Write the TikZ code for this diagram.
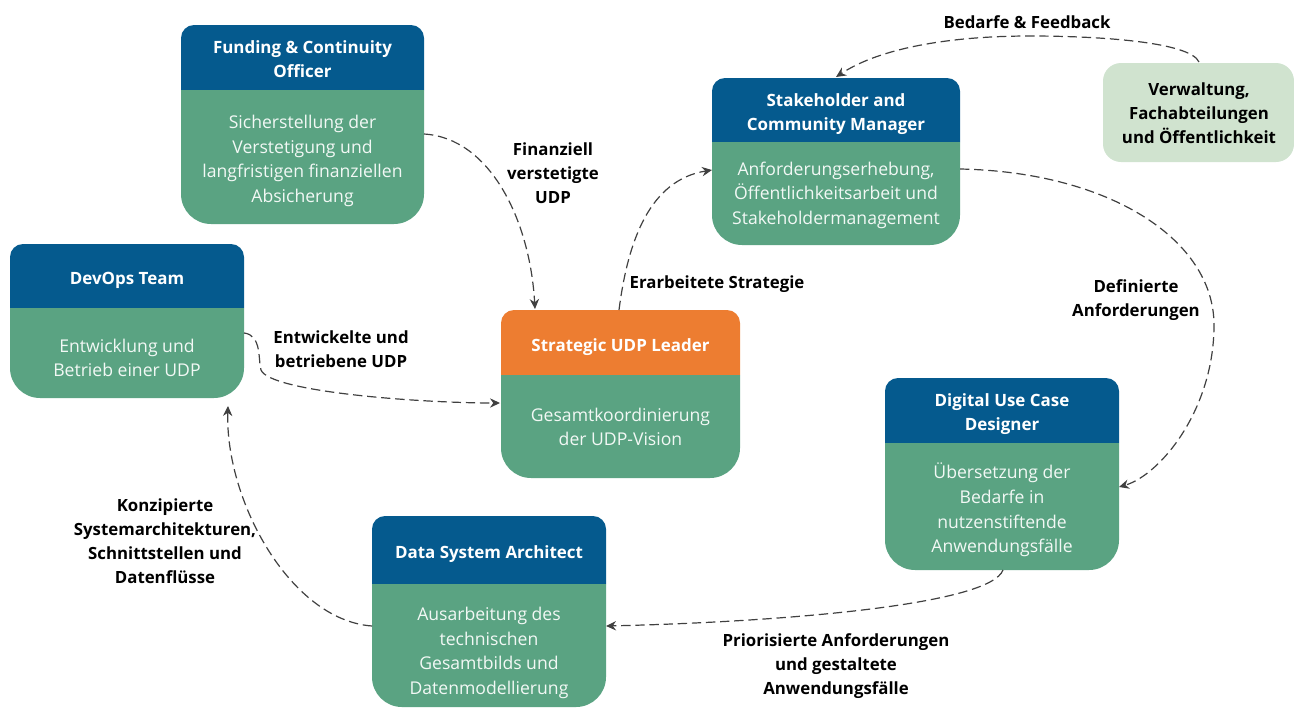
\documentclass[tikz,border=0pt]{standalone}
\usepackage{fontspec}
\setmainfont{Open Sans}
\usetikzlibrary{arrows.meta}
\definecolor{headblue}{HTML}{055A8E}
\definecolor{bodygreen}{HTML}{5AA382}
\definecolor{leadorange}{HTML}{ED7D31}
\definecolor{palegreen}{HTML}{D0E3CF}
\definecolor{linegrey}{HTML}{404040}
\tikzset{
  x=0.75pt,y=-0.75pt,
  headtext/.style={align=center,text=white,font=\fontsize{12.7}{18}\selectfont\bfseries,inner sep=0pt},
  bodytext/.style={align=center,text=white!92!bodygreen,font=\fontsize{13.2}{18.4}\selectfont,inner sep=0pt},
  labeltext/.style={align=center,text=black,font=\fontsize{12.6}{18}\selectfont\bfseries,inner sep=0pt},
  flow/.style={draw=linegrey,line width=0.9pt,dash pattern=on 7pt off 3.6pt,-{Stealth[length=7.5pt,width=7pt]}},
}
% name, x1, y1, split, x2, y2, head colour, head text, body text
% vertical text offsets come from \hsh and \bsh
\newcommand{\rolecard}[9]{%
  \fill[#7] (#2,#4) -- (#2,#3+13) arc[start angle=180,end angle=90,radius=9.75pt] -- (#5-13,#3)
     arc[start angle=90,end angle=0,radius=9.75pt] -- (#5,#4) -- cycle;
  \fill[bodygreen] (#2,#4) -- (#2,#6-30) arc[start angle=180,end angle=270,radius=22.5pt] -- (#5-30,#6)
     arc[start angle=270,end angle=360,radius=22.5pt] -- (#5,#4) -- cycle;
  \node[headtext] (#1head) at ({(#2+#5)/2},{(#3+#4)/2+\hsh}) {#8};
  \node[bodytext] (#1body) at ({(#2+#5)/2},{(#4+#6)/2+\bsh}) {#9};
}
\begin{document}
\begin{tikzpicture}
\useasboundingbox (0,0) rectangle (1294,707);
\def\hsh{1.5}\def\bsh{4}
\rolecard{fund}{181}{25}{90}{424}{224}{headblue}{Funding \& Continuity\\Officer}{Sicherstellung der\\Verstetigung und\\langfristigen finanziellen\\Absicherung}
\def\hsh{4.5}\def\bsh{5}
\rolecard{dev}{10}{244}{308}{244}{398}{headblue}{DevOps Team}{Entwicklung und\\Betrieb einer UDP}
\def\hsh{4.5}\def\bsh{0.5}
\rolecard{lead}{501}{310}{375}{740}{478}{leadorange}{Strategic UDP Leader}{Gesamtkoordinierung\\der UDP-Vision}
\def\hsh{4.5}\def\bsh{1.5}
\rolecard{stake}{712}{78}{142}{960}{245}{headblue}{Stakeholder and\\Community Manager}{Anforderungserhebung,\\Öffentlichkeitsarbeit und\\Stakeholdermanagement}
\def\hsh{3.5}\def\bsh{3.5}
\rolecard{use}{885}{378}{443}{1119}{570}{headblue}{Digital Use Case\\Designer}{Übersetzung der\\Bedarfe in\\nutzenstiftende\\Anwendungsfälle}
\def\hsh{4.5}\def\bsh{7.5}
\rolecard{arch}{372}{516}{584}{606}{707}{headblue}{Data System Architect}{Ausarbeitung des\\technischen\\Gesamtbilds und\\Datenmodellierung}
\fill[palegreen,rounded corners=13.5pt] (1103,63) rectangle (1294,162);
\node[labeltext] (public) at (1199,113) {Verwaltung,\\Fachabteilungen\\und Öffentlichkeit};

\node[labeltext] (l1) at (1027,22) {Bedarfe \& Feedback};
\node[labeltext] (l2) at (553,173) {Finanziell\\verstetigte\\UDP};
\node[labeltext] (l3) at (717,284) {Erarbeitete Strategie};
\node[labeltext] (l4) at (1136,300) {Definierte\\Anforderungen};
\node[labeltext] (l5) at (341,349) {Entwickelte und\\betriebene UDP};
\node[labeltext] (l6) at (165,541.5) {Konzipierte\\Systemarchitekturen,\\Schnittstellen und\\Datenflüsse};
\node[labeltext] (l7) at (836,666) {Priorisierte Anforderungen\\und gestaltete\\Anwendungsfälle};

\coordinate (c1) at (424,134);
\coordinate (c2) at (535,309);
\coordinate (c3) at (619,310);
\coordinate (c4) at (712,170);
\coordinate (c5) at (1199,62);
\coordinate (c6) at (836,77);
\coordinate (c7) at (960,169);
\coordinate (c8) at (1119,487);
\coordinate (c9) at (1003,570);
\coordinate (c10) at (606,626);
\coordinate (c11) at (372,626);
\coordinate (c12) at (228,406);
\coordinate (c13) at (244,333);
\coordinate (c14) at (500,403);
\draw[flow] (c1) .. controls (490,138) and (530,220) .. (c2);
\draw[flow] (c3) .. controls (628,240) and (650,180) .. (c4);
\draw[flow] (c5) .. controls (1190,42) and (1100,36) .. (1030,36) .. controls (950,36) and (880,48) .. (c6);
\draw[flow] (c7) .. controls (1110,172) and (1214,240) .. (1214,325) .. controls (1214,410) and (1160,475) .. (c8);
\draw[flow] (c9) .. controls (990,605) and (780,622) .. (c10);
\draw[flow] (c11) .. controls (290,620) and (225,500) .. (c12);
\draw[flow] (c13) .. controls (262,335) and (258,360) .. (261,370) .. controls (270,392) and (420,403) .. (c14);
\end{tikzpicture}
\end{document}
